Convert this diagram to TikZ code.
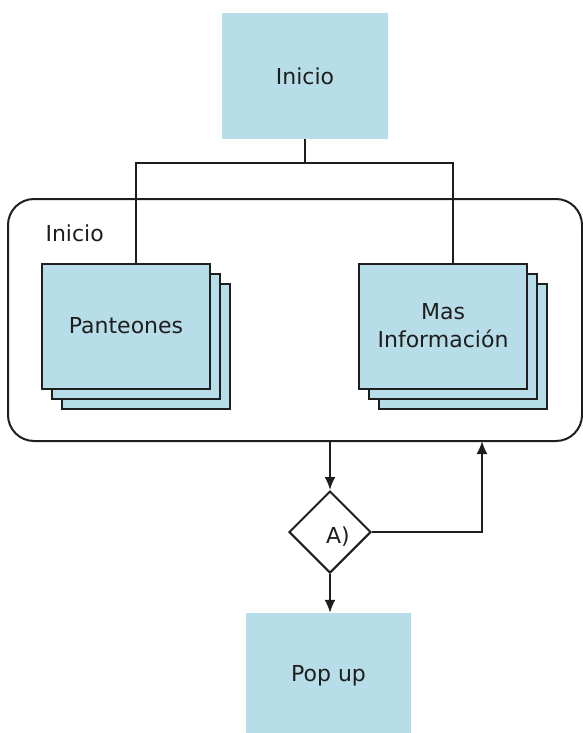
\documentclass[tikz,border=0pt]{standalone}
\usepackage{fontspec}
\setmainfont{DejaVu Sans}
\usetikzlibrary{shapes.geometric,arrows.meta}
\definecolor{boxblue}{HTML}{B7DDE8}
\definecolor{ink}{HTML}{1E1E1E}
\tikzset{
  plain/.style={fill=boxblue,draw=none,minimum width=166pt,minimum height=126pt,inner sep=0pt,font=\fontsize{22}{26}\selectfont,text=ink},
  card/.style={fill=boxblue,draw=ink,line width=2pt,minimum width=168pt,minimum height=125pt,inner sep=0pt,align=center,font=\fontsize{22}{28}\selectfont,text=ink},
  wire/.style={draw=ink,line width=2pt},
  flow/.style={wire,-{Latex[length=13pt,width=11pt]}},
}
\begin{document}
\begin{tikzpicture}[x=1pt,y=-1pt]
\useasboundingbox (0,0) rectangle (583,733);

% start block
\node[plain] (top) at (305,76) {Inicio};

% group frame
\node[draw=ink,line width=2pt,rounded corners=26pt,minimum width=574pt,minimum height=242pt,inner sep=0pt] (grp) at (295,320) {};
\node[font=\fontsize{22}{26}\selectfont,text=ink,anchor=west] (grplabel) at (42,233) {Inicio};

% stacked cards: Panteones
\node[card] (p2) at (146,346) {};
\node[card] (p1) at (136,336) {};
\node[card] (p)  at (126,326) {Panteones};

% stacked cards: Mas Información
\node[card] (m2) at (463,346) {};
\node[card] (m1) at (453,336) {};
\node[card] (m)  at (443,326) {Mas\\Información};

% bus from the start block to both stacks
\coordinate (bus) at (305,163);
\coordinate (pin) at (136,263);
\coordinate (min) at (453,263);
\draw[wire] (top.south) -- (bus);
\draw[wire] (pin) |- (bus) -| (min);

% decision
\node[diamond,draw=ink,line width=2pt,minimum width=82pt,minimum height=82pt,inner sep=0pt,fill=white] (d) at (330,532) {};
\node[font=\fontsize{22}{26}\selectfont,text=ink] (dlabel) at (338,537) {A)};

% end block
\node[plain,minimum width=165pt,minimum height=120pt,text depth=-6pt] (pop) at (328.5,673) {Pop up};

% connectors
\draw[flow] (d.north |- grp.south) -- (d.north);
\coordinate (back) at (482,441);
\draw[flow] (d.east) -| (back);
\draw[flow] (d.south) -- (d.south |- pop.north);
\end{tikzpicture}
\end{document}
